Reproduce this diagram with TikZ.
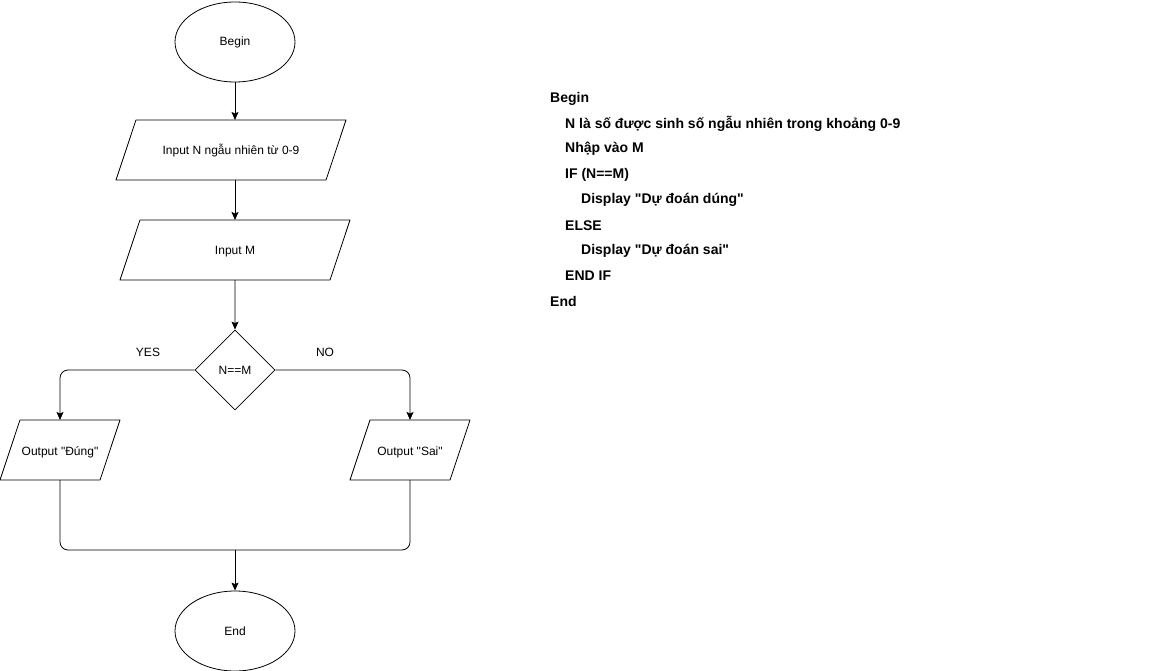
\documentclass[tikz,border=0pt]{standalone}
\usepackage{fontspec}
\setmainfont{Liberation Sans}[Ligatures=TeXOff]
\usepackage{tikz}
\usetikzlibrary{arrows.meta, positioning, shapes.geometric, calc}
\tikzset{every node/.style={font=\fontsize{12}{14}\selectfont}, every path/.style={line join=round}, >={Stealth[length=8pt, width=7pt, inset=1.5pt]}}

\begin{document}
\begin{tikzpicture}[
    x=1pt, y=-1pt,
    terminal/.style={
        draw,
        ellipse,
        minimum width=120pt,
        minimum height=80pt,
        inner sep=0pt
    },
    io/.style={
        draw,
        trapezium,
        trapezium left angle=71.57,
        trapezium right angle=108.43,
        trapezium stretches body=true,
        text height=11pt,
        text depth=1pt,
        inner ysep=24pt,
        inner xsep=0pt,
        outer sep=0pt
    },
    decision/.style={
        draw,
        diamond,
        minimum width=80pt,
        minimum height=80pt,
        inner sep=0pt
    },
    arrow/.style={
        ->,
        line width=0.8pt
    },
    link/.style={
        line width=0.8pt,
        rounded corners=8pt
    },
    code/.style={
        anchor=west,
        font=\fontsize{14}{16}\selectfont\bfseries,
        inner sep=0pt
    }
]
\useasboundingbox (0,0) rectangle (1176,671);

% flowchart
\node[terminal, line width=0.8pt] (begin) at (235,42) {Begin};
\node[io, line width=0.8pt, minimum width=230pt] (inN) at (231,150) {Input N ngẫu nhiên từ 0-9};
\node[io, line width=0.8pt, minimum width=230pt] (inM) at (235,250) {Input M};
\node[decision, line width=0.8pt] (check) at (235,370) {N==M};
\node[io, line width=0.8pt, minimum width=120pt] (outYes) at (60,450) {Output "Đúng"};
\node[io, line width=0.8pt, minimum width=120pt] (outNo) at (410,450) {Output "Sai"};
\node[terminal, line width=0.8pt] (end) at (235,631) {End};
\coordinate (merge) at (235,550);

\node (yes) at (148,352) {YES};
\node (no) at (325,352) {NO};

\draw[arrow] (begin.south) -- (begin.south |- inN.north);
\draw[arrow] (inM.north |- inN.south) -- (inM.north);
\draw[arrow] (inM.south) -- (check.north);
\draw[arrow, link] (check.west) -| (outYes.north);
\draw[arrow, link] (check.east) -| (outNo.north);
\draw[link] (outYes.south) |- (merge) -| (outNo.south);
\draw[arrow] (merge) -- (end.north);

% pseudo code
\node[code] (pc1) at (550,98.5) {Begin};
\node[code] (pc2) at (565,124) {N là số được sinh số ngẫu nhiên trong khoảng 0-9};
\node[code] (pc3) at (565,149) {Nhập vào M};
\node[code] (pc4) at (565,174.5) {IF (N==M)};
\node[code] (pc5) at (581,200) {Display "Dự đoán dúng"};
\node[code] (pc6) at (565,225.5) {ELSE};
\node[code] (pc7) at (581,251) {Display "Dự đoán sai"};
\node[code] (pc8) at (565,276) {END IF};
\node[code] (pc9) at (550,301.5) {End};

\end{tikzpicture}
\end{document}
